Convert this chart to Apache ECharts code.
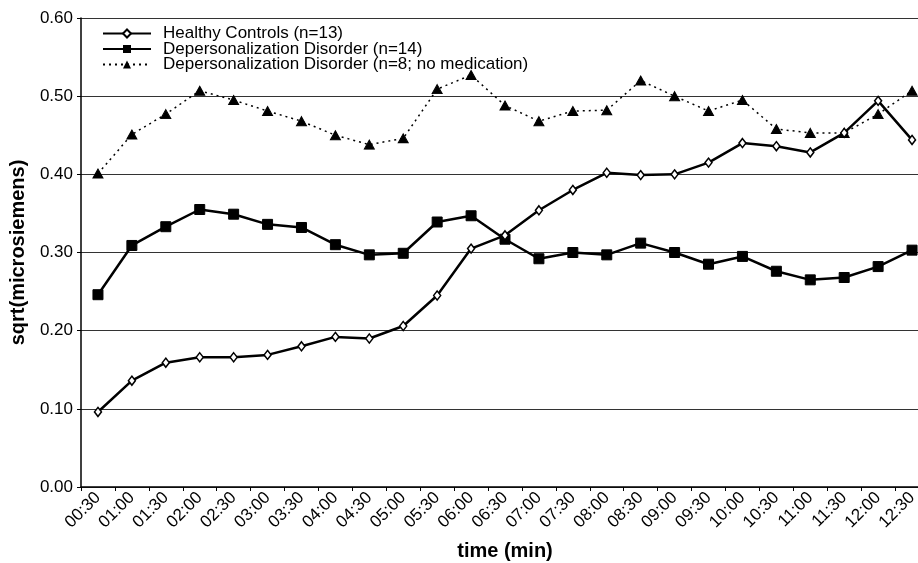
<!DOCTYPE html>
<html>
<head>
<meta charset="utf-8">
<script src="https://cdn.jsdelivr.net/npm/echarts@6/dist/echarts.min.js"></script>
<style>
  html, body { margin: 0; padding: 0; background: #fff; }
  #chart { width: 918px; height: 563px; }
</style>
</head>
<body>
<div id="chart"></div>
<script>
// time points every 30 s
const times = ['00:30', '01:00', '01:30', '02:00', '02:30', '03:00', '03:30', '04:00', '04:30',
    '05:00', '05:30', '06:00', '06:30', '07:00', '07:30', '08:00', '08:30', '09:00', '09:30',
    '10:00', '10:30', '11:00', '11:30', '12:00', '12:30'];

const healthy = [0.096, 0.136, 0.159, 0.166, 0.166, 0.169, 0.180, 0.192, 0.190, 0.206, 0.245, 0.305,
    0.322, 0.354, 0.380, 0.402, 0.399, 0.400, 0.415, 0.440, 0.436, 0.428, 0.453, 0.494, 0.444];

const dpd = [0.246, 0.309, 0.333, 0.355, 0.349, 0.336, 0.332, 0.310, 0.297, 0.299, 0.339, 0.347,
    0.317, 0.292, 0.300, 0.297, 0.312, 0.300, 0.285, 0.295, 0.276, 0.265, 0.268, 0.282, 0.303];

const dpdNoMed = [0.401, 0.451, 0.477, 0.507, 0.495, 0.481, 0.468, 0.450, 0.438, 0.446, 0.509, 0.527,
    0.488, 0.468, 0.481, 0.482, 0.520, 0.500, 0.481, 0.495, 0.458, 0.453, 0.453, 0.477, 0.507];

const seriesNames = [
    'Healthy Controls (n=13)',
    'Depersonalization Disorder (n=14)',
    'Depersonalization Disorder (n=8; no medication)'
];

const FONT = '"Liberation Sans", Arial, sans-serif';

const chart = echarts.init(document.getElementById('chart'));

chart.setOption({
    animation: false,
    backgroundColor: '#fff',
    textStyle: { fontFamily: FONT },
    // last category runs past the right edge, as in the original
    grid: { left: 81, top: 18, bottom: 76, right: -11, outerBoundsMode: 'none', containLabel: false },
    legend: {
        orient: 'vertical',
        left: 102,
        top: 25,
        padding: 0,
        itemWidth: 48,
        itemHeight: 10,
        itemGap: -1.5,
        data: seriesNames,
        textStyle: { fontSize: 17, lineHeight: 15, color: '#000', fontFamily: FONT, padding: [0, 0, 0, 7] }
    },
    xAxis: {
        type: 'category',
        data: times,
        boundaryGap: true,
        name: 'time (min)',
        nameLocation: 'middle',
        nameGap: 54,
        nameTextStyle: { fontSize: 20, fontWeight: 'bold', color: '#000' },
        axisLine: { lineStyle: { color: '#000', width: 1.5 } },
        axisTick: { show: true, length: 4, lineStyle: { color: '#000' } },
        axisLabel: { rotate: 45, interval: 0, fontSize: 17, color: '#000', margin: 8 },
        splitLine: { show: false }
    },
    yAxis: {
        type: 'value',
        min: 0,
        max: 0.6,
        interval: 0.1,
        name: 'sqrt(microsiemens)',
        nameLocation: 'middle',
        nameGap: 53,
        nameTextStyle: { fontSize: 20, fontWeight: 'bold', color: '#000' },
        axisLine: { show: true, lineStyle: { color: '#000', width: 1.5 } },
        axisTick: { show: true, length: 4, lineStyle: { color: '#000' } },
        axisLabel: { fontSize: 17, color: '#000', margin: 8, formatter: v => v.toFixed(2) },
        splitLine: { show: true, lineStyle: { color: '#333', width: 1 } }
    },
    series: [
        {
            name: seriesNames[0],
            type: 'line',
            data: healthy,
            symbol: 'diamond',
            symbolSize: [7, 9],
            lineStyle: { color: '#000', width: 2.5 },
            itemStyle: { color: '#fff', borderColor: '#000', borderWidth: 1.5 },
            z: 3
        },
        {
            name: seriesNames[1],
            type: 'line',
            data: dpd,
            symbol: 'rect',
            symbolSize: 10,
            lineStyle: { color: '#000', width: 2.5 },
            itemStyle: { color: '#000', borderColor: '#000' },
            z: 2
        },
        {
            name: seriesNames[2],
            type: 'line',
            data: dpdNoMed,
            symbol: 'triangle',
            symbolSize: [10, 9],
            lineStyle: { color: '#000', width: 1.5, type: [2, 4] },
            itemStyle: { color: '#000', borderColor: '#000' },
            z: 2
        }
    ]
});
</script>
</body>
</html>
